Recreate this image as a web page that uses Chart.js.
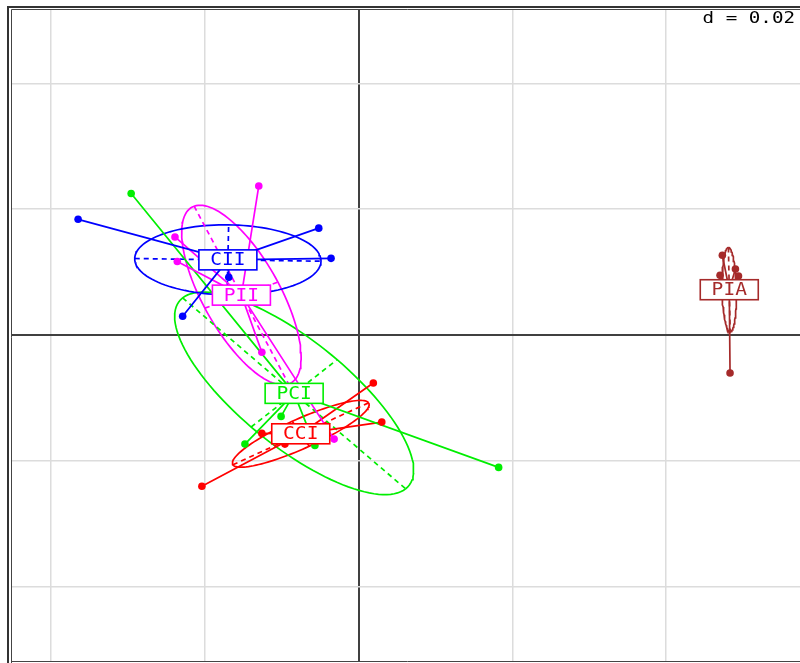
<!DOCTYPE html>
<html>
<head>
<meta charset="utf-8">
<script src="https://cdn.jsdelivr.net/npm/chart.js@4.4.1/dist/chart.umd.min.js"></script>
<style>
  html, body { margin: 0; padding: 0; background: #fff; overflow: hidden; }
  canvas { display: block; }
</style>
</head>
<body>
<canvas id="sclass" width="804" height="666"></canvas>
<script>
// class labels and colours
const groups = ['CII', 'PII', 'PCI', 'CCI', 'PIA'];
const groupColors = ['#0000ff', '#ff00ff', '#00ee00', '#ff0000', '#a52a2a'];

// row scores on axis 1 (x) and axis 2 (y), one pair of arrays per class
const ciiX = [-0.0365, -0.0052, -0.0036, -0.0229, -0.0169];
const ciiY = [0.0184, 0.0170, 0.0122, 0.0030, 0.0092];
const piiX = [-0.0130, -0.0239, -0.0236, -0.0126, -0.0032];
const piiY = [0.0237, 0.0156, 0.0117, -0.0027, -0.0165];
const pciX = [-0.0296, -0.0148, -0.0101, -0.0057, 0.0182];
const pciY = [0.0225, -0.0173, -0.0129, -0.0175, -0.0210];
const cciX = [0.0019, 0.0030, -0.0126, -0.0096, -0.0204];
const cciY = [-0.0076, -0.0138, -0.0156, -0.0173, -0.0240];
const piaX = [0.0473, 0.0470, 0.0490, 0.0494, 0.0483];
const piaY = [0.0127, 0.0095, 0.0105, 0.0094, -0.0060];

const groupX = [ciiX, piiX, pciX, cciX, piaX];
const groupY = [ciiY, piiY, pciY, cciY, piaY];

// grid every d = 0.02
const gridTicks = [-0.04, -0.02, 0, 0.02, 0.04];
const gridLabel = 'd = 0.02';
const xRange = [-0.0451, 0.0574];
const yRange = [-0.0519, 0.0518];
const cellipse = 1;

const mean = a => a.reduce((s, v) => s + v, 0) / a.length;

// inertia ellipse of a class (population covariance, scaled by k)
function classEllipse(xs, ys, k) {
  const n = xs.length, mx = mean(xs), my = mean(ys);
  let sxx = 0, syy = 0, sxy = 0;
  for (let i = 0; i < n; i++) {
    const dx = xs[i] - mx, dy = ys[i] - my;
    sxx += dx * dx; syy += dy * dy; sxy += dx * dy;
  }
  sxx /= n; syy /= n; sxy /= n;
  const tr = sxx + syy, det = sxx * syy - sxy * sxy;
  const disc = Math.sqrt(Math.max(tr * tr / 4 - det, 0));
  const l1 = tr / 2 + disc, l2 = Math.max(tr / 2 - disc, 0);
  let v1 = Math.abs(sxy) > 1e-14 ? [l1 - syy, sxy] : (sxx >= syy ? [1, 0] : [0, 1]);
  const len = Math.hypot(v1[0], v1[1]);
  v1 = [v1[0] / len, v1[1] / len];
  const v2 = [-v1[1], v1[0]];
  const a = k * Math.sqrt(l1), b = k * Math.sqrt(l2);
  const outline = [];
  for (let t = 0; t <= 120; t++) {
    const th = 2 * Math.PI * t / 120;
    const c = Math.cos(th) * a, s = Math.sin(th) * b;
    outline.push({ x: mx + c * v1[0] + s * v2[0], y: my + c * v1[1] + s * v2[1] });
  }
  return {
    outline,
    major: [{ x: mx - a * v1[0], y: my - a * v1[1] }, { x: mx + a * v1[0], y: my + a * v1[1] }],
    minor: [{ x: mx - b * v2[0], y: my - b * v2[1] }, { x: mx + b * v2[0], y: my + b * v2[1] }]
  };
}

const datasets = [];
groups.forEach((g, gi) => {
  const xs = groupX[gi], ys = groupY[gi], col = groupColors[gi];
  const cx = mean(xs), cy = mean(ys);
  const el = classEllipse(xs, ys, cellipse);
  const lineDs = (data, extra) => Object.assign({
    data, showLine: true, pointRadius: 0, borderColor: col, borderWidth: 1.7,
    fill: false, tension: 0
  }, extra);
  datasets.push(lineDs(el.outline, { order: 4 }));
  datasets.push(lineDs(el.major, { order: 3, borderDash: [5, 4] }));
  datasets.push(lineDs(el.minor, { order: 3, borderDash: [5, 4] }));
  // star: centre -> each row
  const star = [];
  xs.forEach((x, i) => { star.push({ x: cx, y: cy }); star.push({ x, y: ys[i] }); });
  datasets.push(lineDs(star, { order: 2 }));
  datasets.push({
    data: xs.map((x, i) => ({ x, y: ys[i] })),
    pointRadius: 3.8, pointBackgroundColor: col, pointBorderWidth: 0,
    showLine: false, order: 1
  });
});

// class name boxes at the gravity centres, plus the d = 0.02 tag and frame
const labelPlugin = {
  id: 'classLabels',
  afterDatasetsDraw(chart) {
    const { ctx, scales: { x, y } } = chart;
    ctx.save();
    groups.forEach((g, gi) => {
      const px = x.getPixelForValue(mean(groupX[gi]));
      const py = y.getPixelForValue(mean(groupY[gi]));
      ctx.fillStyle = '#fff';
      ctx.fillRect(px - 29, py - 10, 58, 20);
      ctx.strokeStyle = groupColors[gi];
      ctx.lineWidth = 1.6;
      ctx.strokeRect(px - 29, py - 10, 58, 20);
      ctx.save();
      ctx.translate(px, py + 1);
      ctx.scale(1.15, 1);
      ctx.fillStyle = groupColors[gi];
      ctx.font = '17px "DejaVu Sans Mono"';
      ctx.textAlign = 'center';
      ctx.textBaseline = 'middle';
      ctx.fillText(g, 0, 0);
      ctx.restore();
    });
    ctx.restore();
  },
  afterDraw(chart) {
    const { ctx } = chart;
    ctx.save();
    ctx.fillStyle = '#fff';
    ctx.fillRect(694, 10, 110, 17);
    ctx.translate(795, 23);
    ctx.scale(1.28, 1);
    ctx.fillStyle = '#000';
    ctx.font = '15px "DejaVu Sans Mono"';
    ctx.textAlign = 'right';
    ctx.textBaseline = 'alphabetic';
    ctx.fillText(gridLabel, 0, 0);
    ctx.restore();

    ctx.save();
    ctx.strokeStyle = '#333';
    ctx.lineWidth = 2;
    ctx.beginPath();
    ctx.moveTo(8, 666); ctx.lineTo(8, 7); ctx.lineTo(804, 7);
    ctx.stroke();
    ctx.lineWidth = 1;
    ctx.strokeStyle = '#444';
    ctx.beginPath();
    ctx.moveTo(11.5, 666); ctx.lineTo(11.5, 9.5); ctx.lineTo(804, 9.5);
    ctx.moveTo(11, 661.5); ctx.lineTo(804, 661.5);
    ctx.stroke();
    ctx.restore();
  }
};

const gridOpts = {
  drawTicks: false,
  color: c => (c.tick && c.tick.value === 0 ? '#404040' : '#dcdcdc'),
  lineWidth: c => (c.tick && c.tick.value === 0 ? 2 : 1.5)
};

new Chart(document.getElementById('sclass'), {
  type: 'scatter',
  data: { datasets },
  options: {
    responsive: false,
    animation: false,
    events: [],
    layout: { padding: { left: 12, top: 9, right: 0, bottom: 0 } },
    plugins: { legend: { display: false }, tooltip: { enabled: false } },
    scales: {
      x: {
        type: 'linear', min: xRange[0], max: xRange[1],
        afterBuildTicks: s => { s.ticks = gridTicks.map(v => ({ value: v })); },
        ticks: { display: false }, border: { display: false }, grid: gridOpts
      },
      y: {
        type: 'linear', min: yRange[0], max: yRange[1],
        afterBuildTicks: s => { s.ticks = gridTicks.map(v => ({ value: v })); },
        ticks: { display: false }, border: { display: false }, grid: gridOpts
      }
    }
  },
  plugins: [labelPlugin]
});
</script>
</body>
</html>
